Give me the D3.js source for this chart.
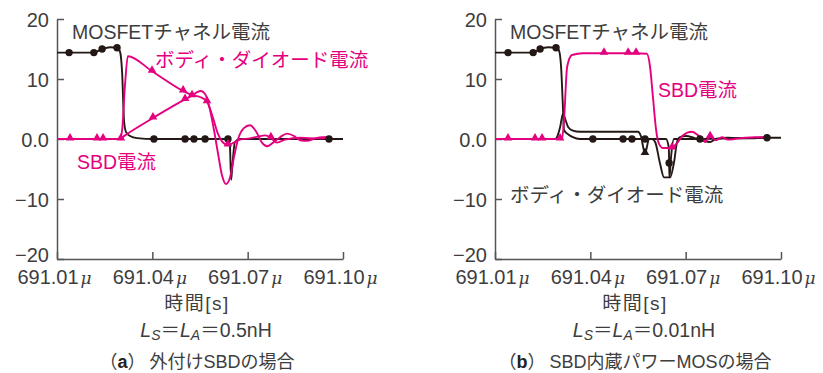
<!DOCTYPE html>
<html lang="ja">
<head>
<meta charset="utf-8">
<script src="https://cdn.jsdelivr.net/npm/d3@7"></script>
<style>
  html, body { margin: 0; padding: 0; background: #fff; }
  svg { display: block; }
  text { font-family: "Liberation Sans", "Noto Sans CJK JP", sans-serif; }
</style>
</head>
<body>
<svg id="chart" width="823" height="373"></svg>
<script>
// Time axis (µs) and current axis (A)
const timeTicks = [691.01, 691.04, 691.07, 691.10];
const timeTickLabels = ["691.01", "691.04", "691.07", "691.10"];
const currentTicks = [-20, -10, 0, 10, 20];
const currentTickLabels = ["\u221220", "\u221210", "0.0", "10", "20"];

// (a) external SBD, Ls = LA = 0.5 nH  —  [time µs, current A]
const mosfetA = [
  [691.0100, 14.4], [691.0138, 14.4], [691.0216, 14.4], [691.0242, 15.0], [691.0267, 15.3],
  [691.0289, 15.2], [691.0298, 14.6], [691.0305, 11.0], [691.0311, 3.0], [691.0317, 1.2],
  [691.0330, 0.5], [691.0352, 0.15], [691.0405, 0], [691.0503, 0], [691.0531, 0],
  [691.0566, 0], [691.0638, 0], [691.0644, -1.0], [691.0648, -6.8], [691.0651, -5.0],
  [691.0660, -0.5], [691.0676, 0], [691.0956, 0], [691.1000, 0]
];
const mosfetAMarks = [
  [691.0138, 14.4], [691.0216, 14.4], [691.0242, 15.0], [691.0289, 15.2],
  [691.0405, 0], [691.0503, 0], [691.0531, 0], [691.0566, 0], [691.0638, 0], [691.0956, 0]
];
const bodyDiodeA = [
  [691.0100, 0], [691.0298, 0], [691.0305, 1.5], [691.0314, 9.0], [691.0323, 13.8],
  [691.0399, 11.3], [691.0497, 8.0], [691.0525, 7.3], [691.0550, 7.0], [691.0572, 6.2],
  [691.0591, 3.5], [691.0607, 0.8], [691.0619, -0.4], [691.0638, -1.0], [691.0657, -0.6],
  [691.0676, -0.1], [691.0707, 0.1], [691.0733, 0.4], [691.0755, 0.6], [691.0773, 0.2],
  [691.0792, -0.6], [691.0818, -0.1], [691.0865, 0.2], [691.0921, 0.1], [691.0956, 0.3]
];
const bodyDiodeAMarks = [
  [691.0141, 0], [691.0226, 0], [691.0245, 0], [691.0399, 11.3], [691.0497, 8.0],
  [691.0572, 6.2], [691.0638, -1.0], [691.0773, 0.2]
];
const sbdA = [
  [691.0100, 0], [691.0298, 0], [691.0314, 0.6], [691.0402, 3.5], [691.0503, 6.6],
  [691.0525, 7.2], [691.0541, 7.8], [691.0553, 8.0], [691.0566, 7.5], [691.0581, 5.0],
  [691.0594, 1.5], [691.0607, -2.5], [691.0619, -6.0], [691.0632, -7.5], [691.0644, -6.5],
  [691.0657, -3.0], [691.0670, 0], [691.0688, 1.8], [691.0707, 2.3], [691.0726, 1.3],
  [691.0745, -0.6], [691.0761, -1.2], [691.0780, -0.6], [691.0802, 0.3], [691.0824, 0.9],
  [691.0846, 0.5], [691.0865, -0.2], [691.0887, -0.3], [691.0912, 0.1], [691.0934, 0.3],
  [691.0956, 0.3]
];
const sbdAMarks = [
  [691.0301, 0], [691.0402, 3.5], [691.0503, 6.6], [691.0525, 7.2]
];

// (b) SBD built into the power MOSFET, Ls = LA = 0.01 nH
const mosfetB = [
  [691.0100, 14.4], [691.0141, 14.4], [691.0220, 14.4], [691.0242, 15.0], [691.0267, 15.3],
  [691.0292, 15.2], [691.0301, 14.8], [691.0308, 12.0], [691.0314, 5.0], [691.0317, 1.5],
  [691.0330, 0.8], [691.0345, 0.3], [691.0367, 0], [691.0408, 0], [691.0503, 0],
  [691.0531, 0], [691.0572, 0], [691.0638, 0], [691.0647, -1.5], [691.0648, -4.0],
  [691.0649, -6.4], [691.0654, -3.0], [691.0663, 0], [691.0745, 0], [691.0956, 0.2],
  [691.1000, 0.2]
];
const mosfetBMarks = [
  [691.0141, 14.4], [691.0220, 14.4], [691.0242, 15.0], [691.0292, 15.2],
  [691.0408, 0], [691.0503, 0], [691.0531, 0], [691.0572, 0], [691.0648, -4.0],
  [691.0745, 0], [691.0956, 0.2]
];
const bodyDiodeB = [
  [691.0100, 0], [691.0289, 0], [691.0295, 0.3], [691.0305, 2.0], [691.0314, 4.2],
  [691.0323, 3.0], [691.0330, 2.0], [691.0345, 1.4], [691.0367, 1.2], [691.0550, 1.2],
  [691.0559, 0.5], [691.0572, -2.4], [691.0585, 0], [691.0594, 0], [691.0604, -0.5],
  [691.0619, -4.0], [691.0632, -6.4], [691.0651, -6.4], [691.0663, -4.0], [691.0673, -0.5],
  [691.0682, 0.3], [691.0701, 0.5], [691.0726, 0.2], [691.0755, -0.3], [691.0777, -0.5],
  [691.0795, 0], [691.0833, 0.2], [691.0887, 0.1], [691.0956, 0.3]
];
const bodyDiodeBMarks = [
  [691.0572, -2.4]
];
const sbdB = [
  [691.0100, 0], [691.0311, 0], [691.0317, 3.0], [691.0327, 12.0], [691.0342, 14.0],
  [691.0377, 14.3], [691.0443, 14.3], [691.0519, 14.3], [691.0544, 14.3], [691.0578, 14.2],
  [691.0588, 12.0], [691.0597, 7.0], [691.0607, 1.5], [691.0616, -0.8], [691.0629, -1.5],
  [691.0651, -1.5], [691.0673, -0.7], [691.0691, 0.6], [691.0720, 1.2], [691.0739, 0.6],
  [691.0755, 0], [691.0761, -0.5], [691.0777, 0.4], [691.0795, -0.2], [691.0814, 0.3],
  [691.0833, -0.1], [691.0855, 0], [691.0887, 0.2], [691.0918, 0.3], [691.0956, 0.3]
];
const sbdBMarks = [
  [691.0141, 0], [691.0226, 0], [691.0248, 0], [691.0305, 0],
  [691.0443, 14.3], [691.0519, 14.3], [691.0544, 14.3], [691.0657, -1.5], [691.0777, 0.4]
];

const PINK = "#e5007f";
const INK = "#231815";
const AXIS = "#555";
const TEXT = "#3d3d3d";

const svg = d3.select("#chart");
svg.append("rect").attr("width", 823).attr("height", 373).attr("fill", "#fff");

function drawPanel(left, series, labels, caption) {
  const width = 286;
  const x = d3.scaleLinear().domain([691.01, 691.10]).range([left, left + width]);
  const y = d3.scaleLinear().domain([-20, 20]).range([259, 19]);
  const g = svg.append("g");

  // current axis
  const yAxis = d3.axisLeft(y)
    .tickValues(currentTicks)
    .tickSize(-7)
    .tickSizeOuter(0)
    .tickPadding(8)
    .tickFormat((d, i) => currentTickLabels[i]);
  const ya = g.append("g").attr("transform", `translate(${left},0)`).call(yAxis);
  ya.select(".domain").attr("stroke", AXIS).attr("stroke-width", 1.5);
  ya.selectAll(".tick line").attr("stroke", AXIS).attr("stroke-width", 1.5);
  ya.selectAll(".tick text")
    .attr("font-size", 20).attr("fill", TEXT)
    .attr("font-family", "Liberation Sans, sans-serif")
    .attr("dy", d => d === -20 ? "0.1em" : "0.36em");

  // time axis
  const xAxis = d3.axisBottom(x)
    .tickValues(timeTicks)
    .tickSize(-7)
    .tickSizeOuter(0)
    .tickPadding(11)
    .tickFormat(() => "");
  const xa = g.append("g").attr("transform", "translate(0,259)").call(xAxis);
  xa.select(".domain").attr("stroke", AXIS).attr("stroke-width", 1.5);
  xa.selectAll(".tick line").attr("stroke", AXIS).attr("stroke-width", 1.5);
  xa.selectAll(".tick text").each(function (d, i) {
    const t = d3.select(this)
      .attr("font-size", 20).attr("fill", TEXT)
      .attr("x", -3).attr("dy", "0.71em");
    t.append("tspan").text(timeTickLabels[i]);
    t.append("tspan").text("\u03bc")
      .attr("dx", 2)
      .attr("font-size", 17)
      .attr("font-style", "italic")
      .attr("font-family", "DejaVu Serif, serif");
  });

  const line = d3.line()
    .x(d => x(d[0]))
    .y(d => y(d[1]))
    .curve(d3.curveMonotoneX);

  const tri = d3.symbol().type(d3.symbolTriangle).size(32);

  series.forEach(s => {
    g.append("path")
      .datum(s.data)
      .attr("d", line)
      .attr("fill", "none")
      .attr("stroke", s.color)
      .attr("stroke-width", 1.9)
      .attr("stroke-linejoin", "round");
  });
  series.forEach(s => {
    if (s.marker === "circle") {
      g.selectAll(null).data(s.marks).enter().append("circle")
        .attr("cx", d => x(d[0])).attr("cy", d => y(d[1]))
        .attr("r", 3.7).attr("fill", s.color);
    } else {
      g.selectAll(null).data(s.marks).enter().append("path")
        .attr("d", tri)
        .attr("transform", d => `translate(${x(d[0])},${y(d[1]) - 1})`)
        .attr("fill", s.color);
    }
  });

  // series labels
  labels.forEach(l => {
    g.append("text")
      .attr("x", l.x).attr("y", l.y)
      .attr("font-size", 19.5)
      .attr("fill", l.color)
      .text(l.text);
  });

  const cx = left + 143;
  g.append("text")
    .attr("x", cx - 3).attr("y", 310)
    .attr("text-anchor", "middle")
    .attr("font-size", 19).attr("fill", TEXT)
    .attr("letter-spacing", 1.5)
    .text("時間[s]");

  const cond = g.append("text")
    .attr("x", cx + 6).attr("y", 337)
    .attr("text-anchor", "middle")
    .attr("font-size", 19.5).attr("fill", TEXT);
  cond.append("tspan").text("L").attr("font-style", "italic");
  cond.append("tspan").text("S").attr("font-style", "italic").attr("font-size", 14).attr("dy", 3);
  cond.append("tspan").text("＝").attr("dy", -3);
  cond.append("tspan").text("L").attr("font-style", "italic");
  cond.append("tspan").text("A").attr("font-style", "italic").attr("font-size", 14).attr("dy", 3);
  cond.append("tspan").text("＝" + caption.inductance).attr("dy", -3);

  const cap = g.append("text")
    .attr("x", cx - 3).attr("y", 368)
    .attr("text-anchor", "middle")
    .attr("font-size", 18).attr("fill", TEXT);
  cap.append("tspan").text("（");
  cap.append("tspan").text(caption.letter).attr("font-weight", "bold").attr("fill", "#222");
  cap.append("tspan").text("）");
  cap.append("tspan").text(caption.text).attr("dx", 4);
}

drawPanel(57,
  [
    { data: mosfetA, marks: mosfetAMarks, color: INK, marker: "circle" },
    { data: bodyDiodeA, marks: bodyDiodeAMarks, color: PINK, marker: "triangle" },
    { data: sbdA, marks: sbdAMarks, color: PINK, marker: "triangle" }
  ],
  [
    { text: "MOSFETチャネル電流", x: 72, y: 39, color: TEXT },
    { text: "ボディ・ダイオード電流", x: 155, y: 67, color: PINK },
    { text: "SBD電流", x: 77, y: 169, color: PINK }
  ],
  { inductance: "0.5nH", letter: "a", text: "外付けSBDの場合" }
);

drawPanel(495,
  [
    { data: bodyDiodeB, marks: bodyDiodeBMarks, color: INK, marker: "triangle" },
    { data: mosfetB, marks: mosfetBMarks, color: INK, marker: "circle" },
    { data: sbdB, marks: sbdBMarks, color: PINK, marker: "triangle" }
  ],
  [
    { text: "MOSFETチャネル電流", x: 510, y: 39, color: TEXT },
    { text: "SBD電流", x: 658, y: 97, color: PINK },
    { text: "ボディ・ダイオード電流", x: 510, y: 202, color: TEXT }
  ],
  { inductance: "0.01nH", letter: "b", text: "SBD内蔵パワーMOSの場合" }
);
</script>
</body>
</html>
